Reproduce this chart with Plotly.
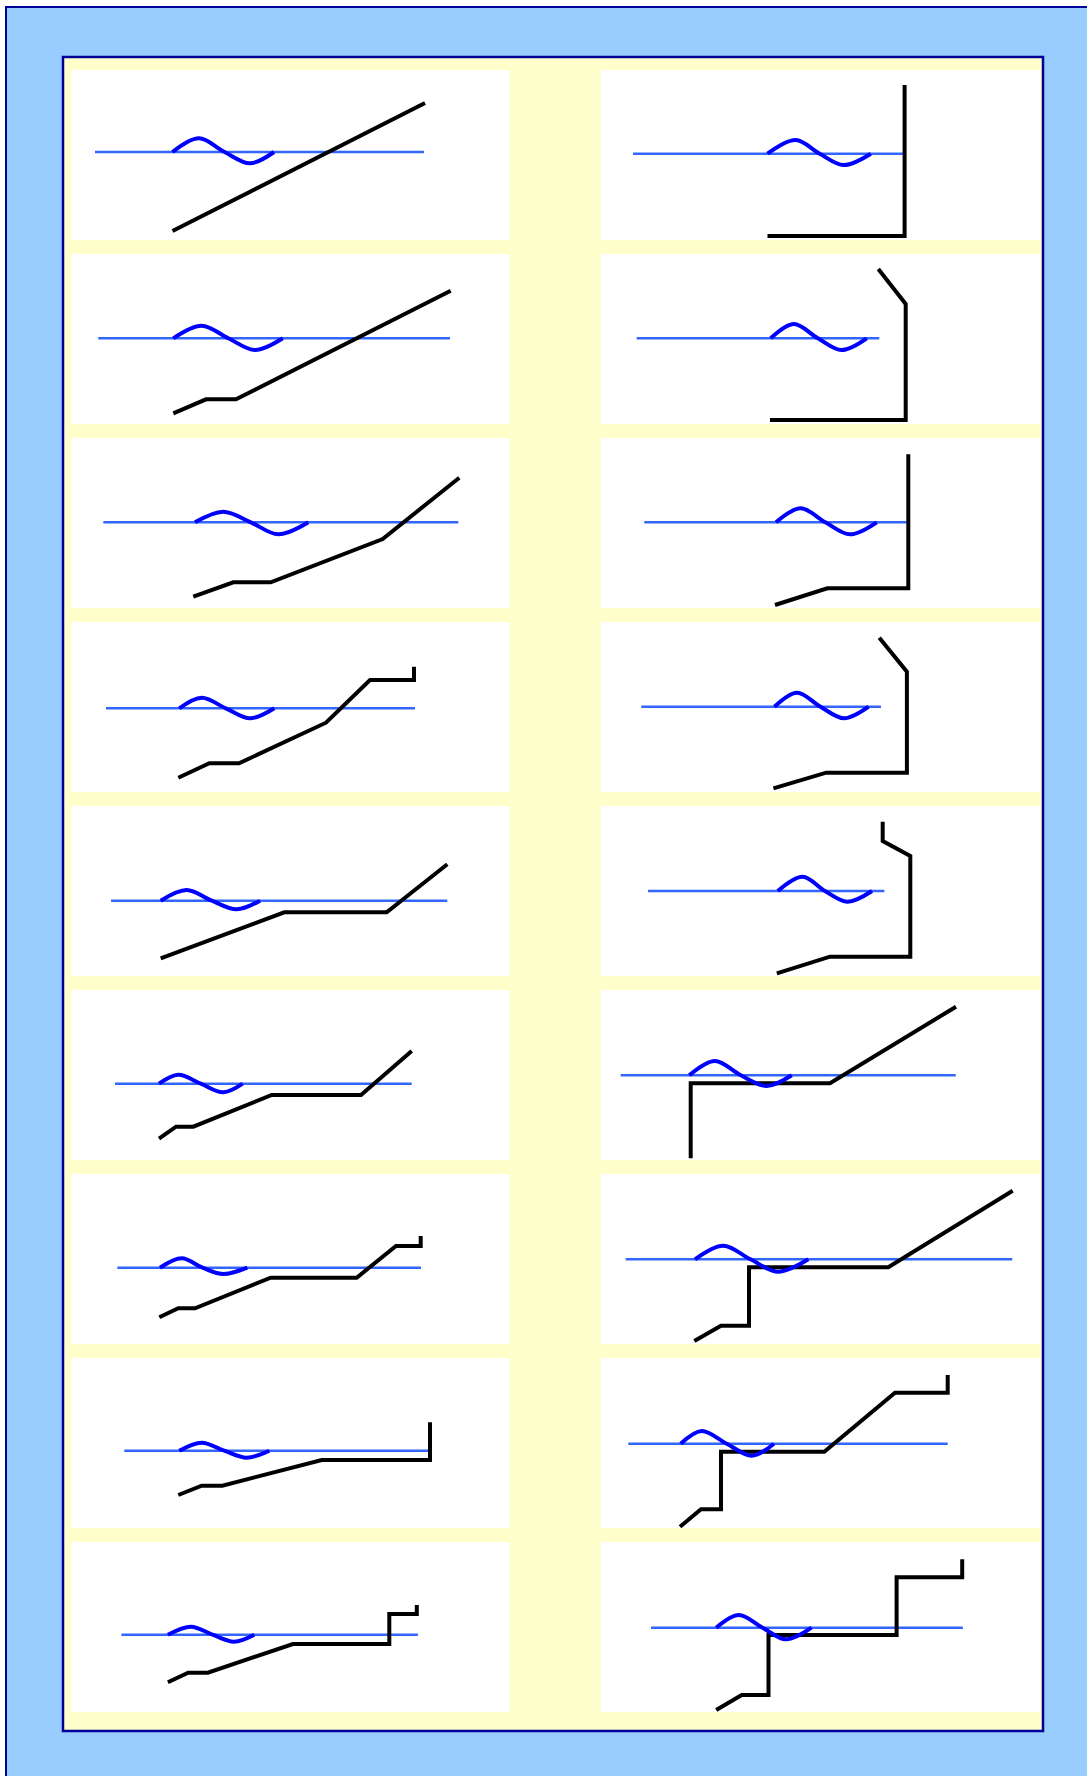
import plotly.graph_objects as go

# ---------------- data (panel units: x 0..439 across, y 0..170 upward) ----------------
# panels 0-8: left column rows 0-8 ; panels 9-17: right column rows 0-8
hline_x = [
    [24, 353], [27.3, 379], [32.3, 387.3], [35, 344], [40, 376.3],
    [44, 340.7], [46.3, 350], [53.3, 357.3], [50.4, 346.9],
    [32, 302], [35.7, 278.3], [43.3, 305.7], [40.3, 280], [47, 283.4],
    [19.7, 354.7], [24.7, 411.3], [27.3, 346.7], [50, 361.9],
]
hline_y = [88, 85.7, 85.7, 83.7, 75.3, 76.3, 76.3, 77.3, 77.3,
           86.3, 85.7, 85.7, 85.3, 85, 84.7, 84.7, 84.3, 84.3]

sine_x = [
    [101.5, 128, 153.5, 179, 203],
    [102.3, 130.7, 157.3, 184, 211.7],
    [124, 152.3, 179.8, 207.3, 237.3],
    [108.3, 130.7, 154.8, 179, 203.3],
    [89.7, 115.7, 140.7, 165.7, 189],
    [88, 107.3, 129.8, 152.3, 171.7],
    [89, 110.7, 131.5, 152.3, 176.3],
    [108.3, 130.7, 153.2, 175.7, 198.3],
    [96.9, 120, 141.5, 163, 183.3],
    [166.5, 194.8, 218.7, 242.6, 269.8],
    [169.7, 193, 216.9, 240.7, 265.7],
    [175, 199.7, 224.4, 249, 275.7],
    [173.5, 196, 219.5, 243, 267.6],
    [176.8, 201.7, 224, 246.4, 271],
    [88.3, 114, 139.8, 165.7, 190.7],
    [94, 122.3, 149.5, 176.7, 207.3],
    [79.7, 100.7, 125.7, 150.7, 173],
    [115.2, 137.9, 161.5, 185, 210.5],
]
sine_y = [
    [88, 101.7, 88, 76.7, 88],
    [85.7, 98.3, 85.7, 74, 85.7],
    [85.7, 96.3, 85.7, 73.7, 85.7],
    [83.7, 94.3, 83.7, 73.7, 83.7],
    [75.3, 86, 75.3, 66.7, 75.3],
    [76.3, 85.3, 76.3, 67.7, 76.3],
    [76.3, 85.7, 76.3, 70, 76.3],
    [77.3, 85.3, 77.3, 70.3, 77.3],
    [77.3, 85.3, 77.3, 70.3, 77.3],
    [86.3, 100, 86.3, 75, 86.3],
    [85.7, 100, 85.7, 74, 85.7],
    [85.7, 99.7, 85.7, 73.7, 85.7],
    [85.3, 99.3, 85.3, 73.7, 85.3],
    [85, 99.3, 85, 74.3, 85],
    [84.7, 99, 84.7, 74, 84.7],
    [84.7, 98.3, 84.7, 72.3, 84.7],
    [84.3, 97, 84.3, 72.3, 84.3],
    [84.3, 97, 84.3, 72.7, 84.3],
]

black_x = [
    [101.5, 354],
    [102.3, 135, 165, 379.7],
    [122.3, 162.3, 199.7, 311.7, 388.3],
    [107.3, 138.3, 168, 255, 299, 343, 343],
    [89.7, 213.3, 315.7, 376.3],
    [88, 105, 122.3, 200.7, 290, 340.7],
    [88.3, 107.3, 124, 199.7, 285.7, 325, 349.7, 349.7],
    [107.3, 130.7, 151.3, 250.7, 359, 359],
    [96.9, 117.2, 136.9, 221.9, 318.3, 318.3, 345.8, 345.8],
    [166.5, 303.6, 303.6],
    [169, 304.7, 304.7, 277.3],
    [174, 226.3, 307.3, 307.3],
    [172.4, 225.2, 305.9, 305.9, 278.3],
    [175.8, 229, 309.3, 309.3, 281.7, 281.7],
    [89.7, 89.7, 229, 355],
    [93.3, 120, 148, 148, 287.3, 411.7],
    [79, 100, 120, 120, 223.3, 294, 346.7, 346.7],
    [115.2, 140.7, 167.5, 167.5, 295.6, 295.6, 361.2, 361.2],
]
black_y = [
    [9, 137],
    [10.7, 24.7, 24.7, 133.3],
    [11.3, 25.7, 25.7, 69, 130.3],
    [14.3, 28.7, 28.7, 69.3, 112, 112, 125.3],
    [17.7, 63.7, 63.7, 111.7],
    [21.3, 33.3, 33.3, 65, 65, 109],
    [26.7, 35.7, 35.7, 66.3, 66.3, 98, 98, 108],
    [33, 42.3, 42.3, 68, 68, 105.7],
    [29.7, 39.3, 39.3, 68, 68, 98, 98, 107],
    [4, 4, 155],
    [4, 4, 120, 155],
    [3, 19.7, 19.7, 153.7],
    [3.7, 19.3, 19.3, 120.3, 154.3],
    [2.7, 19.3, 19.3, 120, 135, 154.3],
    [1.7, 76.7, 76.7, 153.3],
    [3, 18.3, 18.3, 76.7, 76.7, 153.3],
    [1.3, 18.7, 18.7, 76.3, 76.3, 135.3, 135.3, 153],
    [2, 17, 17, 77, 77, 134.7, 134.7, 152.7],
]

# ---------------- layout geometry ----------------
W, H = 1087, 1776
PL, PR, PT, PB = 63, 1043, 57, 1731          # inner plot box in pixels
PW, PH = PR - PL, PB - PT
COL_X = [(71, 510), (601, 1040)]
ROW_TOP0, ROW_PITCH, ROW_H = 70, 184, 170
PANEL_W = 439

def px_to_paper_x(px):
    return (px - PL) / PW

def px_to_paper_y(py):
    return (PB - py) / PH

shapes = [
    # outer light-blue frame
    dict(type="rect", xref="paper", yref="paper", layer="below",
         x0=px_to_paper_x(6), x1=px_to_paper_x(1110),
         y0=px_to_paper_y(1800), y1=px_to_paper_y(7),
         fillcolor="#99ccff", line=dict(color="#000099", width=2)),
    # inner yellow box
    dict(type="rect", xref="paper", yref="paper", layer="below",
         x0=0, x1=1, y0=0, y1=1,
         fillcolor="#ffffcc", line=dict(color="#000099", width=2.5)),
]

fig = go.Figure()
layout_axes = {}
n = len(hline_x)
for k in range(n):
    col = k // 9
    row = k % 9
    idx = k + 1
    sfx = "" if idx == 1 else str(idx)
    xa, ya = f"x{sfx}", f"y{sfx}"
    x0, x1 = COL_X[col]
    top = ROW_TOP0 + ROW_PITCH * row
    bot = top + ROW_H
    layout_axes[f"xaxis{sfx}"] = dict(
        domain=[px_to_paper_x(x0), px_to_paper_x(x1)], range=[0, PANEL_W],
        visible=False, fixedrange=True, anchor=ya)
    layout_axes[f"yaxis{sfx}"] = dict(
        domain=[px_to_paper_y(bot), px_to_paper_y(top)], range=[0, ROW_H],
        visible=False, fixedrange=True, anchor=xa)

    # white panel background
    shapes.append(dict(type="rect", xref=f"{xa} domain", yref=f"{ya} domain",
                       layer="below", x0=0, x1=1, y0=0, y1=1,
                       fillcolor="#ffffff", line=dict(width=0)))

    fig.add_trace(go.Scatter(
        x=hline_x[k], y=[hline_y[k]] * len(hline_x[k]), mode="lines",
        line=dict(color="#3366ff", width=2.6), xaxis=xa, yaxis=ya,
        showlegend=False, hoverinfo="skip"))
    fig.add_trace(go.Scatter(
        x=black_x[k], y=black_y[k], mode="lines",
        line=dict(color="#000000", width=4), xaxis=xa, yaxis=ya,
        showlegend=False, hoverinfo="skip"))
    fig.add_trace(go.Scatter(
        x=sine_x[k], y=sine_y[k], mode="lines",
        line=dict(color="#0000ff", width=4, shape="spline", smoothing=1.0),
        xaxis=xa, yaxis=ya, showlegend=False, hoverinfo="skip"))

fig.update_layout(
    width=W, height=H,
    margin=dict(l=PL, r=W - PR, t=PT, b=H - PB, pad=0),
    paper_bgcolor="#ffffff", plot_bgcolor="#ffffff",
    shapes=shapes, showlegend=False,
    **layout_axes,
)

fig.write_html(
    "out.html",
    config={"displayModeBar": False},
    post_script="document.body.style.margin='0';document.body.style.overflow='hidden';",
)
